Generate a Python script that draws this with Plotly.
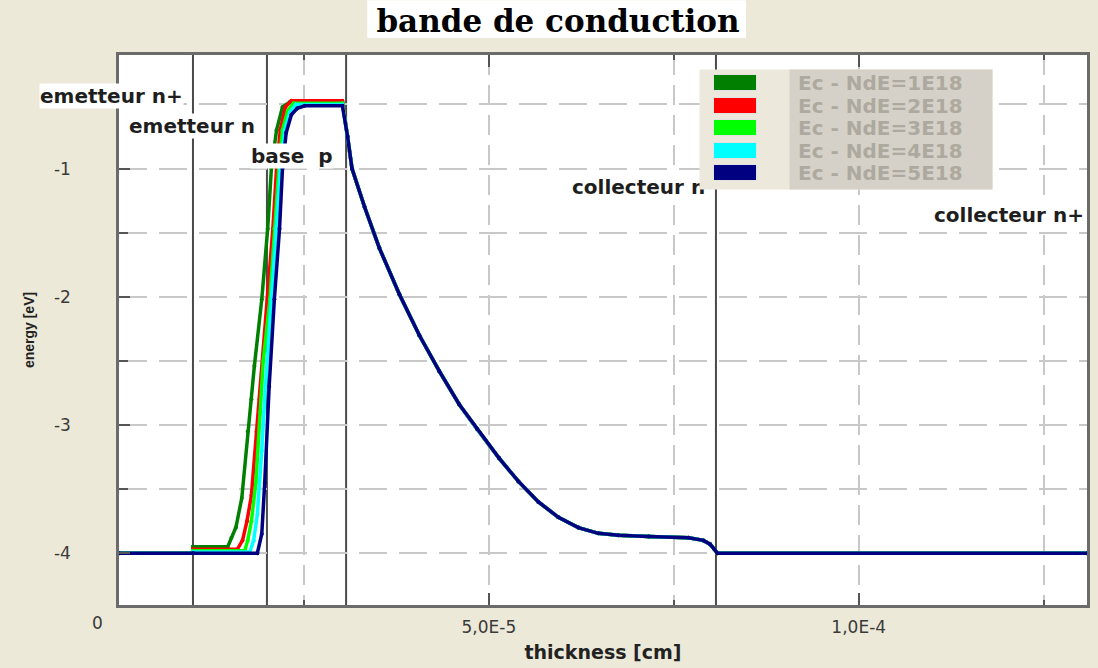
import plotly.graph_objects as go

# ---------------- data (thickness in units of 1e-5 cm, energy in eV) ----------------
series_names = ["Ec - NdE=1E18", "Ec - NdE=2E18", "Ec - NdE=3E18", "Ec - NdE=4E18", "Ec - NdE=5E18"]
series_colors = ["#007F00", "#FF0000", "#00FF00", "#00FFFF", "#000080"]

# emitter n+ region (common to all series)
emit_x = [0.0, 1.0]
emit_y = [-4.0, -4.0]

# emitter n + base rise, one pair per series
rise_x_1 = [1.0, 1.47, 1.52, 1.58, 1.66, 1.74, 1.79, 1.83, 1.93, 2.01, 2.06, 2.13, 2.21, 2.31]
rise_y_1 = [-3.95, -3.95, -3.88, -3.80, -3.57, -3.05, -2.80, -2.54, -2.02, -1.47, -1.00, -0.70, -0.52, -0.48]
rise_x_2 = [1.0, 1.60, 1.67, 1.73, 1.79, 1.86, 1.90, 2.01, 2.08, 2.13, 2.18, 2.25, 2.33]
rise_y_2 = [-3.97, -3.97, -3.90, -3.75, -3.55, -3.05, -2.80, -2.02, -1.47, -1.00, -0.70, -0.52, -0.47]
rise_x_3 = [1.0, 1.70, 1.74, 1.79, 1.85, 1.91, 1.95, 2.04, 2.10, 2.16, 2.21, 2.28, 2.36]
rise_y_3 = [-3.98, -3.98, -3.90, -3.75, -3.45, -2.90, -2.50, -2.02, -1.47, -1.00, -0.70, -0.55, -0.49]
rise_x_4 = [1.0, 1.77, 1.82, 1.87, 1.93, 1.98, 2.06, 2.13, 2.18, 2.24, 2.31, 2.39]
rise_y_4 = [-3.99, -3.99, -3.90, -3.70, -3.20, -2.70, -2.02, -1.47, -1.00, -0.70, -0.56, -0.50]
rise_x_5 = [1.0, 1.87, 1.93, 1.97, 2.03, 2.10, 2.17, 2.21, 2.26, 2.33, 2.41, 2.51]
rise_y_5 = [-4.00, -4.00, -3.85, -3.45, -2.70, -2.02, -1.47, -1.00, -0.72, -0.58, -0.53, -0.51]

# end of the base plateau
plateau_end_x = 3.02

# collector region (common to all series)
coll_x = [3.09, 3.15, 3.32, 3.52, 3.79, 4.06, 4.33, 4.60, 4.84, 5.14, 5.40, 5.67, 5.94,
          6.21, 6.48, 6.75, 7.16, 7.70, 7.90, 7.99, 8.05, 8.09, 13.09]
coll_y = [-0.75, -1.00, -1.30, -1.62, -1.98, -2.30, -2.58, -2.84, -3.03, -3.26, -3.44, -3.60, -3.72,
          -3.80, -3.845, -3.86, -3.87, -3.88, -3.90, -3.93, -3.97, -4.00, -4.00]

# region boundaries and labels
boundaries = [1.0, 2.0, 3.07, 8.07]
region_labels = ["emetteur n+", "emetteur n", "base\u00a0 p", "collecteur n", "collecteur n+"]
region_label_x = [0.0, 0.99, 2.338, 7.02, 12.035]
region_label_y = [-0.433, -0.666, -0.899, -1.14, -1.365]
region_label_shift = [-8, 0, 0, 0, 0]

x_tick_vals = [5.0, 10.0]
x_tick_text = ["5,0E-5", "1,0E-4"]
x_minor_vals = [2.5, 7.5, 12.5]
y_tick_vals = [-4, -3, -2, -1]
y_tick_text = ["-4", "-3", "-2", "-1"]
y_minor_vals = [-3.5, -2.5, -1.5, -0.5]

UNIT = 1e-5  # cm
rises = [(rise_x_1, rise_y_1), (rise_x_2, rise_y_2), (rise_x_3, rise_y_3),
         (rise_x_4, rise_y_4), (rise_x_5, rise_y_5)]

# ---------------- figure ----------------
W, H = 1098, 668
L, R, T, B = 119, 8, 55, 61
plot_w, plot_h = W - L - R, H - T - B

def px_x(px):
    return (px - L) / plot_w

def px_y(py):
    return (H - B - py) / plot_h

fig = go.Figure()
for name, color, (rx, ry) in zip(series_names, series_colors, rises):
    xs = emit_x + rx + [plateau_end_x] + coll_x
    ys = emit_y + ry + [ry[-1]] + coll_y
    fig.add_trace(go.Scatter(
        x=[v * UNIT for v in xs], y=ys, name=name, mode="lines+markers",
        line=dict(color=color, width=3.5), marker=dict(color=color, size=4),
        showlegend=False))

grid_col = "#C8C8C8"
tick_font = dict(family="DejaVu Sans", size=17, color="#3A3A3A")
fig.update_xaxes(
    range=[0, 13.086 * UNIT], tickmode="array",
    tickvals=[v * UNIT for v in x_tick_vals], ticktext=x_tick_text,
    ticks="inside", ticklen=12, tickwidth=2, tickcolor="#555555",
    tickfont=tick_font, ticklabelstandoff=5,
    showgrid=True, gridcolor=grid_col, gridwidth=1.5, griddash="20px,10px",
    minor=dict(tickvals=[v * UNIT for v in x_minor_vals], ticks="inside", ticklen=5,
               tickwidth=2, tickcolor="#555555", showgrid=True, gridcolor=grid_col,
               gridwidth=1.5, griddash="20px,10px"),
    showline=True, linecolor="#6B6B6B", linewidth=2.5, mirror="ticks", zeroline=False,
    title=dict(text="thickness [cm]", standoff=10,
               font=dict(family="DejaVu Sans", size=19, color="#222222", weight="bold")),
)
fig.update_yaxes(
    range=[-4.404, -0.114], tickmode="array",
    tickvals=y_tick_vals, ticktext=y_tick_text,
    ticks="inside", ticklen=11, tickwidth=2, tickcolor="#555555",
    tickfont=tick_font, ticklabelstandoff=42,
    showgrid=True, gridcolor=grid_col, gridwidth=1.5, griddash="28px,12px",
    minor=dict(tickvals=y_minor_vals, ticks="inside", ticklen=9, tickwidth=2,
               tickcolor="#555555", showgrid=True, gridcolor=grid_col, gridwidth=1.5,
               griddash="28px,12px"),
    showline=True, linecolor="#6B6B6B", linewidth=2.5, mirror=True, zeroline=False,
    title=dict(text="energy [eV]", standoff=16,
               font=dict(family="Liberation Sans", size=14, color="#222222", weight="bold")),
)

shapes = []
for b in boundaries:
    shapes.append(dict(type="line", xref="x", yref="paper", x0=b * UNIT, x1=b * UNIT, y0=0, y1=1,
                       line=dict(color="#4A4A4A", width=2), layer="below"))
# white box behind the title
shapes.append(dict(type="rect", xref="paper", yref="paper", x0=px_x(368), x1=px_x(748),
                   y0=px_y(38), y1=px_y(0), fillcolor="white", line=dict(width=0), layer="above"))

annotations = []
# "0" tick label (drawn left of the axis origin as in the reference)
annotations.append(dict(x=0, xref="x", y=px_y(625), yref="paper", text="0", showarrow=False,
                        xshift=-22, font=tick_font, xanchor="center", yanchor="middle"))
label_font = dict(family="DejaVu Sans", size=20, color="#1E1E1E", weight="bold")
for txt, lx, ly, sh in zip(region_labels, region_label_x, region_label_y, region_label_shift):
    annotations.append(dict(x=lx * UNIT, y=ly, xref="x", yref="y", text=txt, showarrow=False,
                            font=label_font, bgcolor="white", borderpad=0, xshift=sh,
                            xanchor="center", yanchor="middle"))

# legend box (drawn as annotations so it covers the region label underneath)
leg_left, leg_right, leg_top, leg_bot, leg_split = 702, 994, 70, 189, 792
annotations.append(dict(x=px_x((leg_left + leg_right) / 2), y=px_y((leg_top + leg_bot) / 2),
                        xref="paper", yref="paper", text=" ", showarrow=False,
                        xanchor="center", yanchor="middle",
                        width=leg_right - leg_left, height=leg_bot - leg_top,
                        bgcolor="#ECE9DC", borderpad=0))
annotations.append(dict(x=px_x((leg_split + leg_right) / 2), y=px_y((leg_top + leg_bot) / 2),
                        xref="paper", yref="paper", text=" ", showarrow=False,
                        xanchor="center", yanchor="middle",
                        width=leg_right - leg_split, height=leg_bot - leg_top,
                        bgcolor="#D5D1C8", borderpad=0))
row_y = [83, 106, 128, 151, 173]
for name, color, ry in zip(series_names, series_colors, row_y):
    annotations.append(dict(x=px_x(737), y=px_y(ry), xref="paper", yref="paper", text=" ",
                            showarrow=False, xanchor="center", yanchor="middle",
                            width=42, height=15, bgcolor=color,
                            bordercolor="#E2E2E2", borderwidth=1, borderpad=0))
    annotations.append(dict(x=px_x(798), y=px_y(ry), xref="paper", yref="paper", text=name,
                            showarrow=False, xanchor="left", yanchor="middle",
                            font=dict(family="DejaVu Sans", size=20, color="#ADA99E", weight="bold")))

fig.update_layout(
    width=W, height=H, autosize=False,
    margin=dict(l=L, r=R, t=T, b=B),
    paper_bgcolor="#ECE9D8", plot_bgcolor="white",
    title=dict(text="bande de conduction", x=558 / W, y=1 - 21 / H, xref="container", yref="container",
               xanchor="center", yanchor="middle",
               font=dict(family="DejaVu Serif", size=31, color="black", weight="bold")),
    shapes=shapes, annotations=annotations,
)

fig.write_html("out.html")
